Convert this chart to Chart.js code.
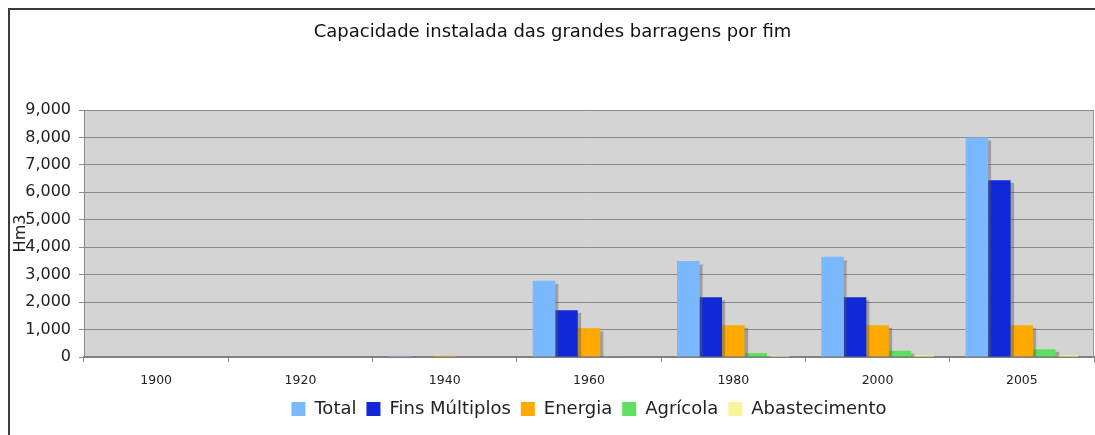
<!DOCTYPE html>
<html lang="pt">
<head>
    <meta charset="UTF-8">
    <script src="https://cdn.jsdelivr.net/npm/chart.js"></script>
    <title>Capacidade instalada</title>
    <style>
        body { margin: 0; background: #fff; }
        .container { width: 1095px; height: 435px; }
    </style>
</head>
<body>
    <div class="container">
        <canvas id="mychart"></canvas>
    </div>

    <script>
        // dados (Hm3)
        const anos = ["1900", "1920", "1940", "1960", "1980", "2000", "2005"];
        const total = [0, 0, 40, 2780, 3500, 3650, 8000];
        const finsMultiplos = [0, 0, 0, 1700, 2180, 2180, 6440];
        const energia = [0, 0, 40, 1050, 1160, 1160, 1160];
        const agricola = [0, 0, 0, 10, 140, 230, 280];
        const abastecimento = [0, 0, 0, 0, 40, 60, 60];
        const yTicks = [0, 1000, 2000, 3000, 4000, 5000, 6000, 7000, 8000, 9000];

        // fundo cinzento da area do grafico + moldura
        const fundo = {
            id: 'fundo',
            beforeDraw(chart) {
                const {ctx, chartArea: a} = chart;
                ctx.save();
                ctx.fillStyle = '#d4d4d4';
                ctx.fillRect(a.left, a.top, a.right - a.left, a.bottom - a.top);
                ctx.restore();
            },
            beforeDatasetsDraw(chart) {
                const ctx = chart.ctx;
                ctx.save();
                ctx.shadowColor = 'rgba(90,90,90,0.45)';
                ctx.shadowOffsetX = 3;
                ctx.shadowOffsetY = 3;
                ctx.shadowBlur = 1;
            },
            afterDatasetsDraw(chart) {
                chart.ctx.restore();
            },
            afterDraw(chart) {
                const {ctx, chartArea: a} = chart;
                ctx.save();
                ctx.strokeStyle = '#999';
                ctx.lineWidth = 1;
                ctx.beginPath();
                ctx.moveTo(a.right - 0.5, a.top);
                ctx.lineTo(a.right - 0.5, a.bottom);
                ctx.stroke();
                ctx.strokeStyle = '#3c3c3c';
                ctx.lineWidth = 2;
                ctx.strokeRect(9, 9, 1100, 440);
                ctx.restore();
            }
        };

        let mychart = document.getElementById("mychart").getContext('2d');
        let charts = new Chart(mychart, {
            type: 'bar',
            data: {
                labels: anos,
                datasets: [
                    { label: 'Total', data: total, backgroundColor: '#7ab8ff' },
                    { label: 'Fins Múltiplos', data: finsMultiplos, backgroundColor: '#1028d8' },
                    { label: 'Energia', data: energia, backgroundColor: '#ffaa00' },
                    { label: 'Agrícola', data: agricola, backgroundColor: '#60de60' },
                    { label: 'Abastecimento', data: abastecimento, backgroundColor: '#fbf49c' }
                ]
            },
            plugins: [fundo],
            options: {
                responsive: true,
                maintainAspectRatio: false,
                animation: false,
                layout: { padding: { left: 11, right: 1, top: 0, bottom: 7 } },
                datasets: {
                    bar: { categoryPercentage: 0.78, barPercentage: 1.0 }
                },
                plugins: {
                    title: {
                        display: true,
                        text: 'Capacidade instalada das grandes barragens por fim',
                        color: '#111',
                        font: { family: 'DejaVu Sans', size: 18, weight: 'normal' },
                        padding: { top: 22, bottom: 66.4 }
                    },
                    legend: {
                        position: 'bottom',
                        fullSize: false,
                        labels: {
                            color: '#222',
                            boxWidth: 14,
                            boxHeight: 14,
                            padding: 10,
                            font: { family: 'DejaVu Sans', size: 18 }
                        }
                    },
                    tooltip: { enabled: false }
                },
                scales: {
                    x: {
                        grid: { drawOnChartArea: false, drawTicks: true, tickLength: 5, color: '#888', offset: true },
                        border: { color: '#808080', width: 2 },
                        ticks: { color: '#222', padding: 11, font: { family: 'DejaVu Sans', size: 12.5 } },
                        afterFit(scale) { scale.height = 33; }
                    },
                    y: {
                        min: 0,
                        max: 9000,
                        afterBuildTicks(scale) { scale.ticks = yTicks.map(v => ({ value: v })); },
                        grid: { color: '#8a8a8a', tickLength: 5 },
                        border: { color: '#8a8a8a' },
                        ticks: {
                            color: '#222',
                            padding: 8,
                            font: { family: 'DejaVu Sans', size: 16 },
                            callback: v => v.toLocaleString('en-US')
                        },
                        title: {
                            display: true,
                            text: 'Hm3',
                            color: '#222',
                            padding: { top: 0, bottom: 0 },
                            font: { family: 'DejaVu Sans', size: 16 }
                        },
                        afterFit(scale) { scale.width = 73; }
                    }
                }
            }
        });
    </script>
</body>
</html>
